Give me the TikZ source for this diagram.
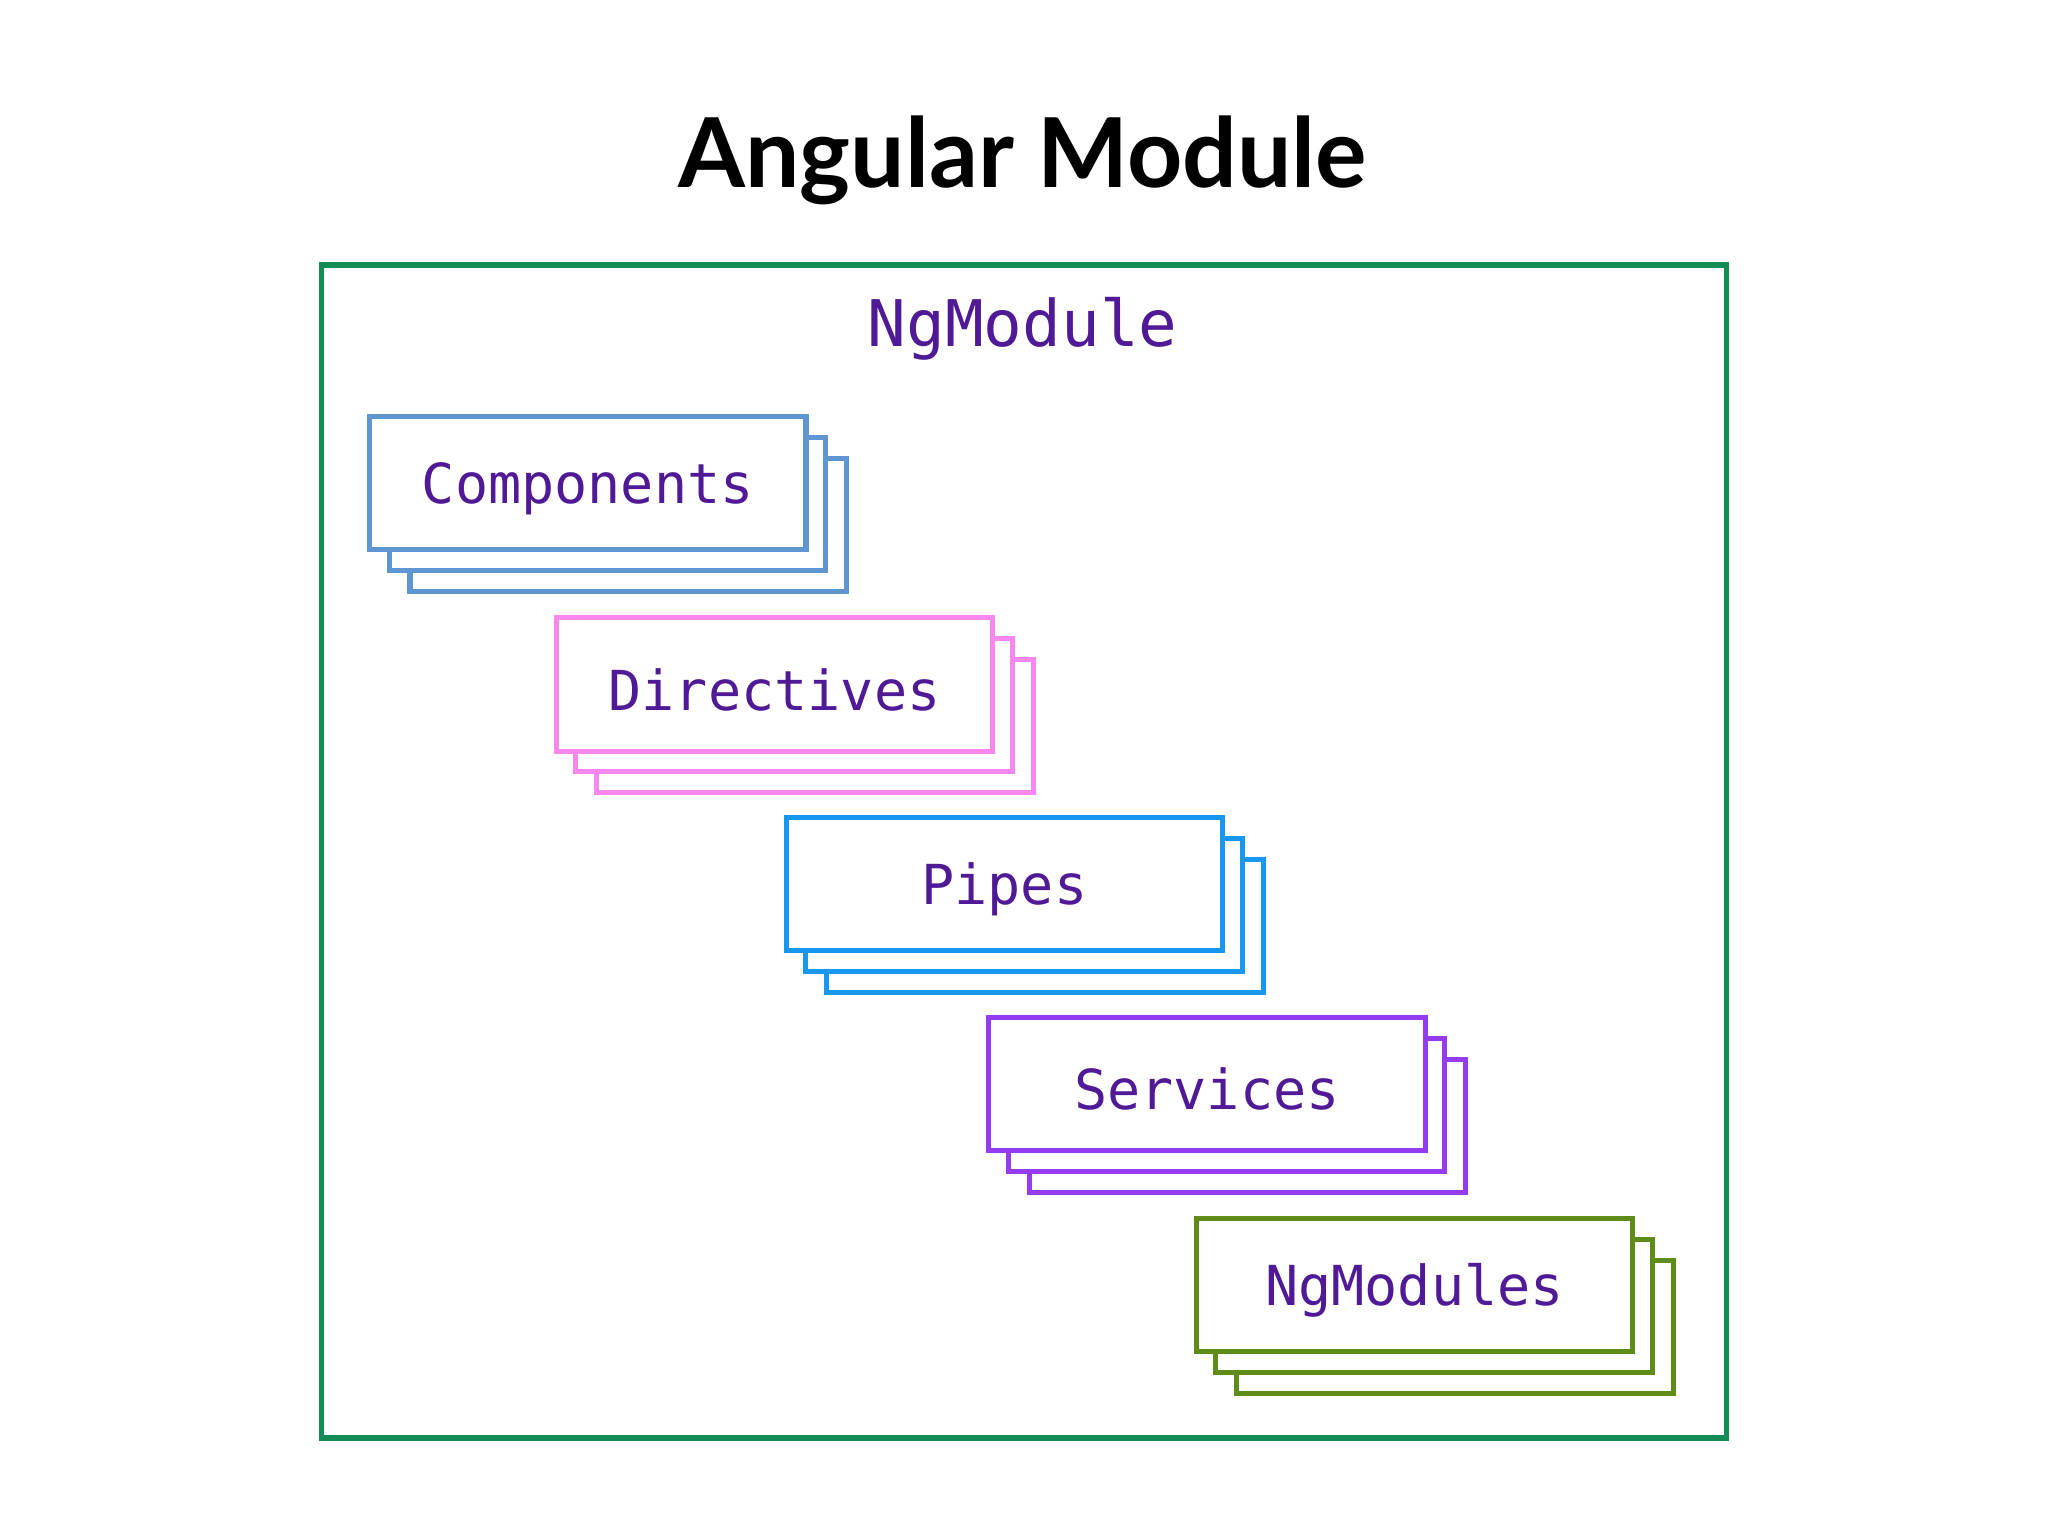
\documentclass[tikz,border=0pt]{standalone}
\usepackage{fontspec}
\setmainfont{Lato}
\setmonofont{DejaVu Sans Mono}
\begin{document}
\begin{tikzpicture}[x=0.01cm,y=-0.01cm,
  card/.style={draw=#1,line width=1.1pt,fill=white,minimum width=3.34cm,minimum height=1.02cm,inner sep=0pt},
  lbl/.style={text={rgb,255:red,80;green,25;blue,150},font=\ttfamily\fontsize{12}{14}\selectfont}]
\definecolor{frame}{RGB}{20,140,85}
\definecolor{cA}{RGB}{95,150,210}
\definecolor{cB}{RGB}{250,135,240}
\definecolor{cC}{RGB}{25,150,240}
\definecolor{cD}{RGB}{150,60,240}
\definecolor{cE}{RGB}{95,140,25}
\useasboundingbox (0,0) rectangle (1568,1176);
\node (title) at (783,123) {\fontsize{21}{25}\selectfont\bfseries Angular Module};
\draw[frame,line width=1.2pt] (246,203) rectangle (1322,1101);
\node[lbl,font=\ttfamily\fontsize{14}{17}\selectfont] (ng) at (783,252) {NgModule};
\foreach \n/\cx/\cy/\c/\t in {comp/450/370/cA/Components,dir/593/524/cB/Directives,pipe/769/677/cC/Pipes,serv/924/830/cD/Services,mods/1083/984/cE/NgModules}{
  \node[card=\c] (\n3) at (\cx+31,\cy+32) {};
  \node[card=\c] (\n2) at (\cx+15,\cy+16) {};
  \node[card=\c] (\n) at (\cx,\cy) {};
  \node[lbl] (\n t) at (\cx,\cy+4) {\t};
}
\end{tikzpicture}
\end{document}
